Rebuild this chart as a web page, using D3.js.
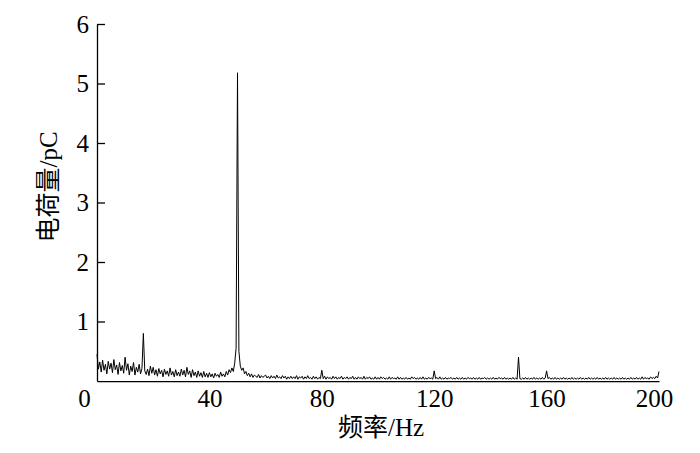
<!DOCTYPE html>
<html>
<head>
<meta charset="utf-8">
<script src="https://cdn.jsdelivr.net/npm/d3@7"></script>
<style>
  body { margin: 0; background: #fff; }
  svg text { font-family: "Liberation Serif", "Times New Roman", serif; fill: #000; }
  .cjk { font-family: "Liberation Serif", "Noto Sans CJK SC", serif; }
</style>
</head>
<body>
<svg id="chart" width="700" height="453"></svg>
<script>
// spectrum sampled every 0.5 Hz from 0 to 200 Hz (charge in pC)
const freqStep = 0.5;
const charge = [
  // 0-10 Hz
  0.45,0.2,0.32,0.15,0.35,0.18,0.28,0.12,0.33,0.2,0.3,0.14,0.36,0.19,0.27,0.11,0.31,0.17,0.26,0.13,
  // 10-20
  0.4,0.18,0.29,0.1,0.25,0.16,0.31,0.1,0.23,0.15,0.28,0.12,0.21,0.8,0.17,0.11,0.2,0.09,0.25,0.13,
  // 20-30
  0.23,0.1,0.19,0.08,0.21,0.12,0.18,0.07,0.2,0.11,0.17,0.08,0.22,0.1,0.16,0.07,0.19,0.09,0.15,0.08,
  // 30-40
  0.2,0.1,0.18,0.07,0.23,0.11,0.17,0.06,0.19,0.09,0.15,0.06,0.17,0.08,0.14,0.06,0.16,0.07,0.13,0.06,
  // 40-50
  0.14,0.07,0.12,0.05,0.13,0.08,0.11,0.06,0.15,0.08,0.12,0.07,0.16,0.1,0.19,0.14,0.22,0.16,0.3,0.55,
  // 50-60
  5.18,0.5,0.25,0.18,0.22,0.12,0.16,0.09,0.13,0.07,0.12,0.06,0.1,0.08,0.06,0.11,0.05,0.09,0.06,0.08,
  // 60-70
  0.1,0.05,0.08,0.04,0.09,0.05,0.08,0.04,0.1,0.05,0.07,0.04,0.09,0.05,0.08,0.03,0.07,0.04,0.08,0.04,
  // 70-80
  0.07,0.04,0.09,0.03,0.07,0.05,0.08,0.03,0.07,0.04,0.09,0.04,0.06,0.03,0.08,0.04,0.07,0.03,0.06,0.04,
  // 80-90
  0.18,0.04,0.08,0.03,0.07,0.04,0.06,0.03,0.08,0.04,0.07,0.03,0.06,0.04,0.08,0.03,0.06,0.04,0.07,0.03,
  // 90-100
  0.06,0.04,0.08,0.03,0.06,0.03,0.07,0.04,0.06,0.03,0.08,0.03,0.06,0.04,0.07,0.03,0.05,0.03,0.07,0.03,
  // 100-110
  0.06,0.03,0.07,0.04,0.06,0.03,0.05,0.03,0.07,0.03,0.06,0.04,0.05,0.03,0.07,0.03,0.06,0.03,0.05,0.03,
  // 110-120
  0.06,0.03,0.05,0.03,0.07,0.04,0.06,0.03,0.05,0.03,0.06,0.03,0.07,0.03,0.05,0.03,0.06,0.04,0.05,0.03,
  // 120-130
  0.17,0.04,0.06,0.03,0.07,0.03,0.05,0.03,0.06,0.03,0.05,0.04,0.06,0.03,0.05,0.03,0.06,0.03,0.05,0.03,
  // 130-140
  0.06,0.03,0.05,0.03,0.06,0.04,0.05,0.03,0.06,0.03,0.05,0.03,0.06,0.03,0.05,0.04,0.06,0.03,0.05,0.03,
  // 140-150
  0.05,0.03,0.06,0.03,0.05,0.03,0.06,0.04,0.05,0.03,0.06,0.03,0.05,0.03,0.05,0.03,0.06,0.03,0.05,0.03,
  // 150-160
  0.4,0.04,0.03,0.05,0.03,0.06,0.03,0.05,0.03,0.05,0.03,0.06,0.03,0.05,0.03,0.05,0.03,0.06,0.03,0.05,
  // 160-170
  0.17,0.04,0.06,0.03,0.05,0.03,0.06,0.03,0.05,0.03,0.05,0.03,0.06,0.03,0.05,0.03,0.05,0.03,0.06,0.03,
  // 170-180
  0.05,0.03,0.05,0.03,0.06,0.03,0.05,0.03,0.05,0.03,0.06,0.03,0.05,0.03,0.05,0.03,0.06,0.03,0.05,0.03,
  // 180-190
  0.05,0.03,0.06,0.03,0.05,0.03,0.05,0.03,0.06,0.03,0.05,0.03,0.05,0.03,0.06,0.03,0.05,0.03,0.05,0.03,
  // 190-200
  0.06,0.03,0.05,0.03,0.06,0.03,0.05,0.03,0.07,0.03,0.06,0.04,0.05,0.03,0.07,0.04,0.06,0.04,0.08,0.05,
  0.16
];
const xTicks = [0, 40, 80, 120, 160, 200];
const yTicks = [1, 2, 3, 4, 5, 6];
const xTitle = '频率/Hz';
const yTitle = '电荷量/pC';

const margin = { left: 97, top: 24, right: 41, bottom: 72 };
const width = 700, height = 453;

const svg = d3.select('#chart');

const x = d3.scaleLinear().domain([0, 200]).range([margin.left, width - margin.right]);
const y = d3.scaleLinear().domain([0, 6]).range([height - margin.bottom, margin.top]);

// clip labels at the right edge like the cropped original
svg.append('clipPath').attr('id', 'edge')
  .append('rect').attr('x', 0).attr('y', 0).attr('width', 674).attr('height', height);

// spectrum line
const line = d3.line()
  .x((d, i) => x(i * freqStep))
  .y((d) => y(d));

svg.append('path')
  .datum(charge)
  .attr('fill', 'none')
  .attr('stroke', '#000')
  .attr('stroke-width', 1)
  .attr('stroke-linejoin', 'miter')
  .attr('d', line);

// x axis: line only, no tick marks
const xAxis = svg.append('g')
  .attr('transform', `translate(0,${y(0)})`)
  .attr('clip-path', 'url(#edge)')
  .call(d3.axisBottom(x).tickValues(xTicks).tickSize(0).tickPadding(8));
xAxis.select('.domain').attr('stroke', '#000').attr('stroke-width', 1.3);
xAxis.selectAll('text')
  .attr('font-size', 25)
  .attr('font-family', '"Liberation Serif", serif')
  .attr('dx', (d) => (d === 0 ? -13 : d === 200 ? -5 : 0));

// y axis: ticks point inward
const yAxis = svg.append('g')
  .attr('transform', `translate(${x(0)},0)`)
  .call(d3.axisLeft(y).tickValues(yTicks).tickFormat(d3.format('d'))
    .tickSizeInner(-8).tickSizeOuter(0).tickPadding(8));
yAxis.select('.domain').attr('stroke', '#000').attr('stroke-width', 1.3);
yAxis.selectAll('.tick line').attr('stroke', '#000').attr('stroke-width', 1.3);
yAxis.selectAll('text')
  .attr('font-size', 25)
  .attr('font-family', '"Liberation Serif", serif')
  .attr('x', -8);

// titles
svg.append('text')
  .attr('class', 'cjk')
  .attr('x', 381)
  .attr('y', 436)
  .attr('text-anchor', 'middle')
  .attr('font-size', 25)
  .text(xTitle);

svg.append('text')
  .attr('class', 'cjk')
  .attr('transform', 'translate(57,187) rotate(-90)')
  .attr('text-anchor', 'middle')
  .attr('font-size', 25)
  .text(yTitle);
</script>
</body>
</html>
